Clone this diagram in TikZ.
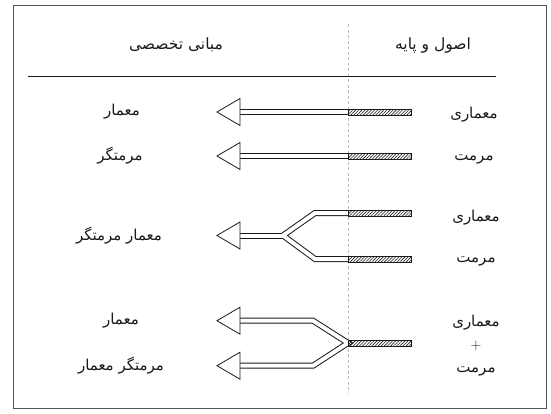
\documentclass[tikz,border=0pt]{standalone}
\usepackage{fontspec}
\newfontfamily\arabicfont[Script=Arabic]{DejaVu Sans}
\TeXXeTstate=1
\usetikzlibrary{patterns.meta}
\newcommand{\fa}[1]{\arabicfont\beginR #1\endR}
\definecolor{ink}{HTML}{1A1A1A}
\definecolor{framecol}{HTML}{555555}
\definecolor{dashcol}{HTML}{BBBBBB}
\tikzset{
  lbl/.style={font=\fontsize{15}{17}\selectfont, text=ink, inner sep=1pt},
  hdr/.style={font=\fontsize{15.5}{18}\selectfont, text=ink, inner sep=1pt},
  shaftout/.style={draw=ink, line width=6pt, line join=miter, line cap=butt},
  shaftin/.style={draw=white, line width=4pt, line join=miter, line cap=butt},
  hatchbar/.style={draw=ink, line width=0.6pt, minimum width=63pt, minimum height=6pt, inner sep=0pt, anchor=west,
     pattern={Lines[angle=45,distance=2.2pt,line width=0.6pt]}, pattern color=ink},
  head/.style={draw=ink, fill=white, line width=0.8pt, line join=miter},
}
\begin{document}
\begin{tikzpicture}[x=1pt,y=-1pt]
\useasboundingbox (0,0) rectangle (551,413);
\draw[framecol, line width=1pt] (13.5,5.5) rectangle (546.5,408.5);
% dashed divider
\coordinate (dv1) at (348,24);
\coordinate (dv2) at (348,393);
\draw[dashcol, line width=0.9pt, dash pattern=on 3pt off 2.5pt] (dv1) -- (dv2);
% header rule
\coordinate (hr1) at (28,76);
\coordinate (hr2) at (496,76);
\draw[ink, line width=0.7pt] (hr1) -- (hr2);
% headers
\node[hdr] (hl) at (176,45) {\fa{مبانی تخصصی}};
\node[hdr] (hrt) at (433,45) {\fa{اصول و پایه}};
% arrow base coordinates (arrowhead bases)
\coordinate (a1) at (240,112);
\coordinate (a2) at (240,156);
\coordinate (a3) at (240,235.5);
\coordinate (a4) at (240,320.7);
\coordinate (a5) at (240,365.7);
% hatch bar anchor points
\coordinate (p1) at (348,112);
\coordinate (p2) at (348,156);
\coordinate (p3) at (348,213);
\coordinate (p4) at (348,259);
\coordinate (p5) at (348,343);
% bends
\coordinate (k3) at (315,213);
\coordinate (k4) at (315,259);
\coordinate (m3) at (283,235.5);
\coordinate (k5) at (313,320.7);
\coordinate (k6) at (313,365.7);
% shafts: outer pass then inner pass
\foreach \s in {shaftout, shaftin}{
  \draw[\s] (p1) -- (a1);
  \draw[\s] (p2) -- (a2);
  \draw[\s] (p3) -- (k3) -- (m3) -- (k4) -- (p4);
  \draw[\s] (m3) -- (a3);
  \draw[\s] (a4) -- (k5) -- (p5) -- (k6) -- (a5);
}
% hatch bars
\node[hatchbar] (b1) at (p1) {};
\node[hatchbar] (b2) at (p2) {};
\node[hatchbar] (b3) at (p3) {};
\node[hatchbar] (b4) at (p4) {};
\node[hatchbar] (b5) at (p5) {};
% arrowheads
\foreach \a in {a1,a2,a3,a4,a5}{
  \draw[head] (\a) -- ++(0,-13.5) -- ++(-23,13.5) -- ++(23,13.5) -- cycle;
}
% left labels
\node[lbl] (l1) at (122,112) {\fa{معمار}};
\node[lbl] (l2) at (120,156) {\fa{مرمتگر}};
\node[lbl] (l3) at (119,236) {\fa{معمار مرمتگر}};
\node[lbl] (l4) at (121,321) {\fa{معمار}};
\node[lbl] (l5) at (121,366) {\fa{مرمتگر معمار}};
% right labels
\node[lbl] (r1) at (474,115) {\fa{معماری}};
\node[lbl] (r2) at (474,159) {\fa{مرمت}};
\node[lbl] (r3) at (476,218) {\fa{معماری}};
\node[lbl] (r4) at (476,261) {\fa{مرمت}};
\node[lbl] (r5) at (476,323) {\fa{معماری}};
\node[lbl] (r6) at (476,346) {+};
\node[lbl] (r7) at (476,371) {\fa{مرمت}};
\end{tikzpicture}
\end{document}
